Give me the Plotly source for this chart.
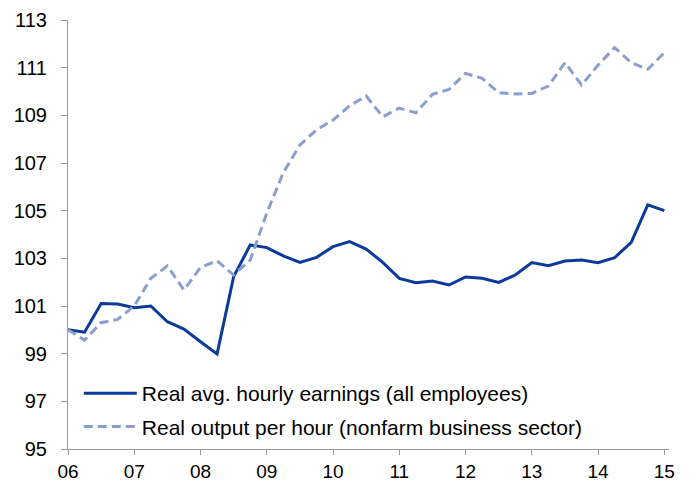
import plotly.graph_objects as go

quarters = [6 + 0.25 * i for i in range(37)]

earnings = [100.0, 99.9, 101.1, 101.08, 100.93, 101.0, 100.34, 100.03, 99.5, 98.99,
            102.23, 103.56, 103.45, 103.1, 102.83, 103.04, 103.49, 103.7, 103.39, 102.83,
            102.16, 101.98, 102.05, 101.88, 102.22, 102.16, 101.99, 102.3, 102.82, 102.69,
            102.89, 102.93, 102.82, 103.03, 103.67, 105.24, 105.0]

output = [100.0, 99.57, 100.3, 100.44, 101.0, 102.16, 102.68, 101.67, 102.62, 102.9,
          102.3, 102.93, 104.9, 106.6, 107.76, 108.39, 108.8, 109.4, 109.81, 108.94,
          109.3, 109.11, 109.88, 110.09, 110.76, 110.55, 109.95, 109.9, 109.92, 110.23,
          111.21, 110.27, 111.11, 111.84, 111.21, 110.93, 111.63]

x_tickvals = [6, 7, 8, 9, 10, 11, 12, 13, 14, 15]
x_ticktext = ["06", "07", "08", "09", "10", "11", "12", "13", "14", "15"]
y_tickvals = [95, 97, 99, 101, 103, 105, 107, 109, 111, 113]

fig = go.Figure()
fig.add_trace(go.Scatter(x=quarters, y=earnings, mode="lines",
                         name="Real avg. hourly earnings (all employees)",
                         legendgroup="a",
                         line=dict(color="#0B3A9A", width=3)))
fig.add_trace(go.Scatter(x=quarters, y=output, mode="lines",
                         name="Real output per hour (nonfarm business sector)",
                         legendgroup="b",
                         line=dict(color="#8B9FCE", width=3, dash="9px,5px")))

fig.update_layout(
    width=695, height=481,
    margin=dict(l=60, r=34, t=12, b=40),
    plot_bgcolor="white", paper_bgcolor="white",
    font=dict(family="Liberation Sans, Arial", size=20, color="#000000"),
    showlegend=True,
    legend=dict(x=0.018, y=0.177, xanchor="left", yanchor="top",
                bgcolor="rgba(0,0,0,0)", font=dict(size=21),
                traceorder="grouped", tracegroupgap=3, itemwidth=53),
    xaxis=dict(range=[6, 15.07], tickvals=x_tickvals, ticktext=x_ticktext,
               showgrid=False, zeroline=False, showline=True, linecolor="#999999",
               linewidth=1, ticks="outside", ticklen=5, tickcolor="#999999",
               automargin=False, ticklabelstandoff=0, tickfont=dict(size=19)),
    yaxis=dict(range=[95, 113], tickvals=y_tickvals,
               showgrid=False, zeroline=False, showline=True, linecolor="#999999",
               linewidth=1, ticks="outside", ticklen=6, tickcolor="#999999",
               automargin=False, ticklabelstandoff=10),
)

fig.write_html("out.html")
